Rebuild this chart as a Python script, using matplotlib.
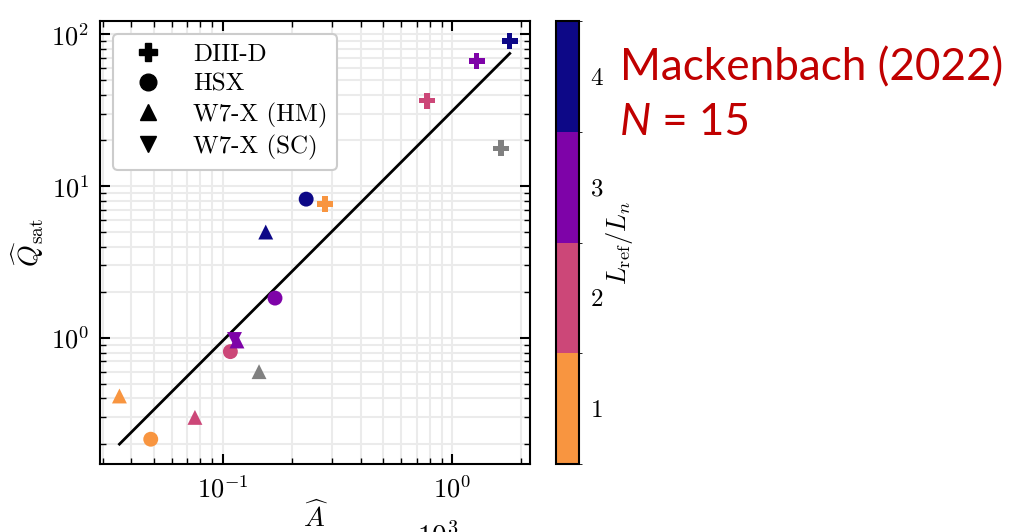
import numpy as np
import matplotlib
matplotlib.use("Agg")
import matplotlib.pyplot as plt
from matplotlib.colors import ListedColormap, BoundaryNorm
from matplotlib.lines import Line2D

# data (A_hat, Q_sat, L_ref/L_n ; nan -> grey point)
diiid_A = [1.78, 1.277, 0.775, 1.63, 0.279]
diiid_Q = [89.9, 66.7, 36.5, 17.7, 7.6]
diiid_L = [4, 3, 2, np.nan, 1]

hsx_A = [0.231, 0.169, 0.108, 0.0486]
hsx_Q = [8.2, 1.83, 0.813, 0.2155]
hsx_L = [4, 3, 2, 1]

w7x_hm_A = [0.154, 0.1154, 0.0757, 0.0355, 0.144]
w7x_hm_Q = [4.98, 0.955, 0.30, 0.415, 0.60]
w7x_hm_L = [4, 3, 2, 1, np.nan]

w7x_sc_A = [0.112]
w7x_sc_Q = [0.984]
w7x_sc_L = [3]

# fit line end points
fit_A = [0.0355, 1.78]
fit_Q = [0.200, 74.6]

cbar_ticks = [1, 2, 3, 4]

plt.rcParams.update({
    "font.family": "serif",
    "font.serif": ["cmr10"],
    "mathtext.fontset": "cm",
    "axes.formatter.use_mathtext": True,
    "font.size": 18,
})

plasma = plt.get_cmap("plasma")
cmap = ListedColormap([plasma(0.75), plasma(0.5), plasma(0.25), plasma(0.0)])
norm = BoundaryNorm([0.5, 1.5, 2.5, 3.5, 4.5], cmap.N)

fig = plt.figure(figsize=(10.11, 5.32), dpi=100)
ax = fig.add_axes([0.0992, 0.1278, 0.4250, 0.8327])
cax = fig.add_axes([0.5500, 0.1278, 0.0228, 0.8327])

def colors_for(levels):
    return [cmap(norm(v)) if not np.isnan(v) else "#808080" for v in levels]

ax.plot(fit_A, fit_Q, color="black", lw=2, zorder=3)
ax.scatter(diiid_A, diiid_Q, c=colors_for(diiid_L), marker="P", s=135, lw=0, zorder=4)
ax.scatter(hsx_A, hsx_Q, c=colors_for(hsx_L), marker="o", s=115, lw=0, zorder=4)
ax.scatter(w7x_hm_A, w7x_hm_Q, c=colors_for(w7x_hm_L), marker="^", s=115, lw=0, zorder=4)
ax.scatter(w7x_sc_A, w7x_sc_Q, c=colors_for(w7x_sc_L), marker="v", s=115, lw=0, zorder=4)

ax.set_xscale("log")
ax.set_yscale("log")
ax.set_xlim(0.0293, 2.18)
ax.set_ylim(0.148, 122)

ax.grid(True, which="both", color="#ebebeb", lw=1.5, zorder=0)
ax.set_axisbelow(True)
ax.tick_params(which="both", direction="in", top=True, right=True)
ax.tick_params(which="major", length=7, width=1.5, pad=8, labelsize=19)
ax.tick_params(which="minor", length=4, width=1.0)
for sp in ax.spines.values():
    sp.set_linewidth(1.5)

ax.set_xlabel(r"$\widehat{A}$", labelpad=-1, fontsize=20)
ax.set_ylabel(r"$\widehat{Q}_\mathrm{sat}$", labelpad=4, fontsize=20)

handles = [
    Line2D([], [], ls="none", marker="P", color="black", ms=13),
    Line2D([], [], ls="none", marker="o", color="black", ms=12),
    Line2D([], [], ls="none", marker="^", color="black", ms=12),
    Line2D([], [], ls="none", marker="v", color="black", ms=12),
]
leg = ax.legend(handles, ["DIII-D", "HSX", "W7-X (HM)", "W7-X (SC)"],
                loc="upper left", framealpha=1, edgecolor="#cccccc",
                labelspacing=0.28)
leg.get_frame().set_linewidth(1.5)

sm = plt.cm.ScalarMappable(cmap=cmap, norm=norm)
cbar = fig.colorbar(sm, cax=cax, ticks=cbar_ticks)
cbar.ax.tick_params(length=0, pad=8)
cbar.outline.set_linewidth(1.5)
cbar.set_label(r"$L_\mathrm{ref}/L_n$", rotation=90, labelpad=0, fontsize=19)

# slide annotation
red = "#c00000"
fig.text(620 / 1011, 1 - 80 / 532, "Mackenbach (2022)", color=red,
         fontsize=31.7, family="Lato", va="baseline")
t1 = fig.text(620 / 1011, 1 - 135 / 532, "N", color=red, fontsize=31.7,
              family="Lato", style="italic", va="baseline")
fig.canvas.draw()
bb = t1.get_window_extent()
fig.text(bb.x1 / fig.bbox.width, 1 - 135 / 532, " = 15", color=red,
         fontsize=31.7, family="Lato", va="baseline")

# cut-off text at the bottom of the slide
fig.text(417 / 1011, 1 - 545 / 532, r"$10^3$", fontsize=21, va="baseline")

fig.savefig("out.png", dpi=100)
